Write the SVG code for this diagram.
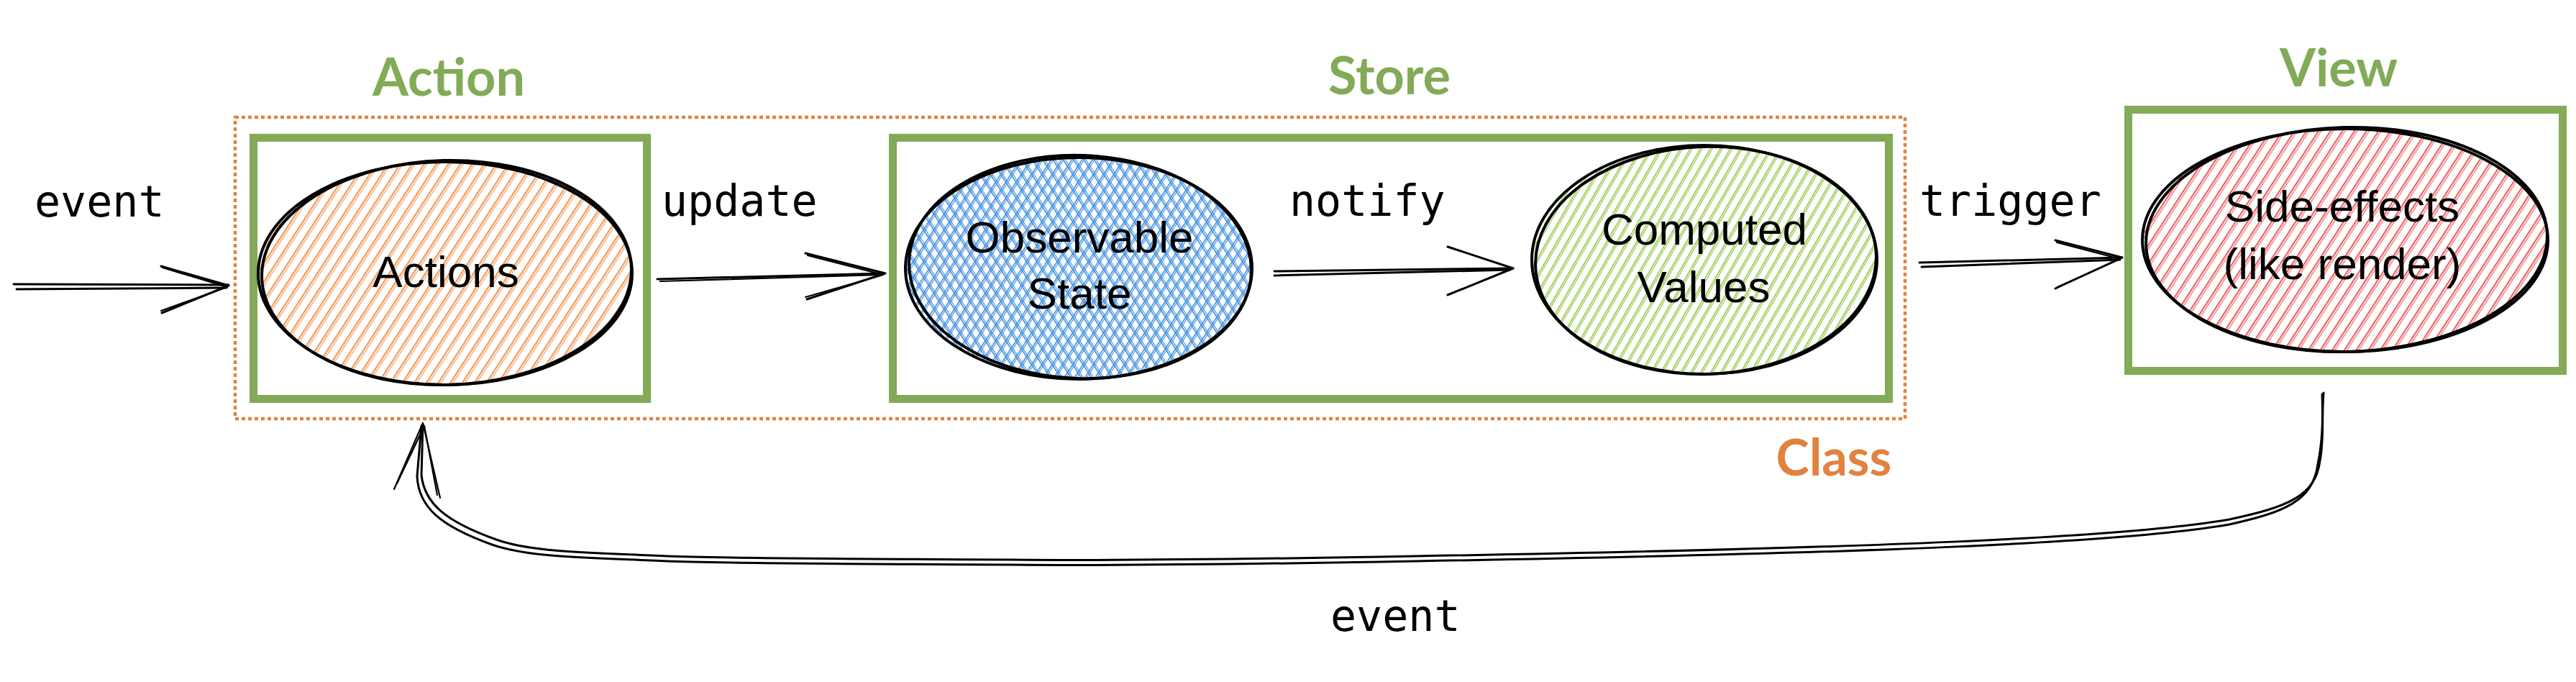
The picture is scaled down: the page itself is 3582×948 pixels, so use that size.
<svg xmlns="http://www.w3.org/2000/svg" width="3582" height="948" viewBox="0 0 3582 948">
<style>
.title{font-family:Lato,"Open Sans",sans-serif;font-weight:700;font-size:72px;fill:#82AA57;text-anchor:middle}
.cls{font-family:Lato,"Open Sans",sans-serif;font-weight:700;font-size:70px;fill:#E0833F;text-anchor:middle}
.mono{font-family:"DejaVu Sans Mono","Liberation Mono",monospace;font-size:60px;fill:#000}
.hand{font-family:"Liberation Sans",Arial,sans-serif;font-size:62px;fill:#000;text-anchor:middle}
.box{fill:none;stroke:#82AA57;stroke-width:11}
.outline{fill:none;stroke:#000;stroke-width:4}
.line{fill:none;stroke:#000;stroke-width:3;stroke-linecap:round;stroke-linejoin:round}
.thin{fill:none;stroke:#000;stroke-width:2.2;stroke-linecap:round;stroke-linejoin:round}
</style>
<defs>
<pattern id="hOrange" patternUnits="userSpaceOnUse" width="14" height="40" patternTransform="rotate(33)">
<line x1="3" y1="0" x2="3" y2="40" stroke="#F08A3C" stroke-width="1.8"/>
<line x1="6" y1="0" x2="6" y2="40" stroke="#F08A3C" stroke-width="1.1"/>
</pattern>
<pattern id="hBlue1" patternUnits="userSpaceOnUse" width="12" height="40" patternTransform="rotate(33)">
<line x1="3" y1="0" x2="3" y2="40" stroke="#3F8EE0" stroke-width="1.7"/>
<line x1="5.5" y1="0" x2="5.5" y2="40" stroke="#3F8EE0" stroke-width="1.1"/>
</pattern>
<pattern id="hBlue2" patternUnits="userSpaceOnUse" width="12" height="40" patternTransform="rotate(-33)">
<line x1="3" y1="0" x2="3" y2="40" stroke="#3F8EE0" stroke-width="1.7"/>
<line x1="5.5" y1="0" x2="5.5" y2="40" stroke="#3F8EE0" stroke-width="1.1"/>
</pattern>
<pattern id="hGreen" patternUnits="userSpaceOnUse" width="12" height="40" patternTransform="rotate(30)">
<line x1="3" y1="0" x2="3" y2="40" stroke="#8DC540" stroke-width="1.6"/>
<line x1="5.5" y1="0" x2="5.5" y2="40" stroke="#8DC540" stroke-width="1.1"/>
</pattern>
<pattern id="hRed" patternUnits="userSpaceOnUse" width="14" height="40" patternTransform="rotate(33)">
<line x1="3" y1="0" x2="3" y2="40" stroke="#E84A4A" stroke-width="1.8"/>
<line x1="6" y1="0" x2="6" y2="40" stroke="#E84A4A" stroke-width="1.1"/>
</pattern>
</defs>
<rect width="3582" height="948" fill="#fff"/>

<g id="class-group">
<rect x="327" y="163" width="2322" height="419" fill="none" stroke="#E0833F" stroke-width="4.5" stroke-dasharray="5 4"/>
<text class="cls" x="2550" y="661">Class</text>
</g>

<g id="action">
<text class="title" x="624" y="133">Action</text>
<rect class="box" x="352.5" y="191.5" width="547" height="363"/>
<ellipse cx="619" cy="380" rx="258" ry="153" fill="url(#hOrange)"/>
<ellipse class="outline" cx="619" cy="380" rx="260" ry="155"/>
<ellipse class="outline" cx="621" cy="379" rx="257" ry="156" transform="rotate(-1.5 621 379)"/>
<text class="hand" x="620" y="399">Actions</text>
</g>

<g id="store">
<text class="title" x="1932" y="131">Store</text>
<rect class="box" x="1241.5" y="191.5" width="1385" height="363"/>
</g>

<g id="observable-state">
<ellipse cx="1500" cy="373" rx="239" ry="152" fill="url(#hBlue1)"/>
<ellipse cx="1500" cy="373" rx="239" ry="152" fill="url(#hBlue2)"/>
<ellipse class="outline" cx="1500" cy="373" rx="241" ry="154"/>
<ellipse class="outline" cx="1502" cy="371" rx="238" ry="155" transform="rotate(2 1502 371)"/>
<text class="hand" x="1501" y="351">Observable</text>
<text class="hand" x="1501" y="429">State</text>
</g>

<g id="computed-values">
<ellipse cx="2370" cy="361" rx="238" ry="157" fill="url(#hGreen)"/>
<ellipse class="outline" cx="2370" cy="361" rx="240" ry="159"/>
<ellipse class="outline" cx="2372" cy="362" rx="237" ry="158" transform="rotate(-2 2372 362)"/>
<text class="hand" x="2370" y="340">Computed</text>
<text class="hand" x="2369" y="420">Values</text>
</g>

<g id="view">
<text class="title" x="3252" y="120">View</text>
<rect class="box" x="2959.5" y="152.5" width="604" height="363"/>
<ellipse cx="3261" cy="334" rx="280" ry="153" fill="url(#hRed)"/>
<ellipse class="outline" cx="3261" cy="334" rx="282" ry="155"/>
<ellipse class="outline" cx="3263" cy="333" rx="279" ry="156" transform="rotate(-1.5 3263 333)"/>
<text class="hand" x="3257" y="308">Side-effects</text>
<text class="hand" x="3257" y="388">(like render)</text>
</g>

<g id="connectors">
<!-- event in -->
<path class="line" d="M19 395 L318 396"/>
<path class="line" d="M23 402 L315 400"/>
<path class="line" d="M224 370 L318 397 L225 435"/>
<path class="thin" d="M226 372 L316 399 L224 432"/>
<text class="mono" x="48" y="301">event</text>
<!-- update -->
<path class="line" d="M914 388 L1230 380"/>
<path class="thin" d="M918 391 L1226 382"/>
<path class="line" d="M1120 352 L1231 380 L1122 416"/>
<path class="thin" d="M1123 355 L1228 382 L1120 413"/>
<text class="mono" x="920" y="300">update</text>
<!-- notify -->
<path class="line" d="M1772 377 L2104 373"/>
<path class="line" d="M1772 383 L2100 375"/>
<path class="line" d="M2013 343 L2104 373 L2013 410"/>
<text class="mono" x="1793" y="300">notify</text>
<!-- trigger -->
<path class="line" d="M2669 365 L2951 358"/>
<path class="line" d="M2672 371 L2948 361"/>
<path class="line" d="M2858 334 L2951 358 L2858 401"/>
<path class="thin" d="M2860 337 L2948 360 L2861 399"/>
<text class="mono" x="2669" y="300">trigger</text>
<!-- event back -->
<path class="line" d="M3231 546 C3228 580 3232 610 3226 640 C3220 690 3180 705 3100 722 C2950 748 2600 762 1970 773 C1700 778 1500 779 1407 778 C1200 777 1000 776 927 773 C820 768 740 768 690 750 C620 725 590 700 586 660 L588 590"/>
<path class="line" d="M3229 548 C3230 580 3230 612 3223 645 C3216 697 3176 712 3100 729 C2950 755 2600 769 1970 780 C1700 785 1500 786 1407 785 C1200 784 1000 783 927 780 C815 775 735 775 684 757 C612 731 582 705 580 662 L586 592"/>
<path class="thin" d="M548 680 L588 588 L612 692"/>
<path class="thin" d="M552 672 L590 592 L608 688"/>
<text class="mono" x="1850" y="877">event</text>
</g>
</svg>
